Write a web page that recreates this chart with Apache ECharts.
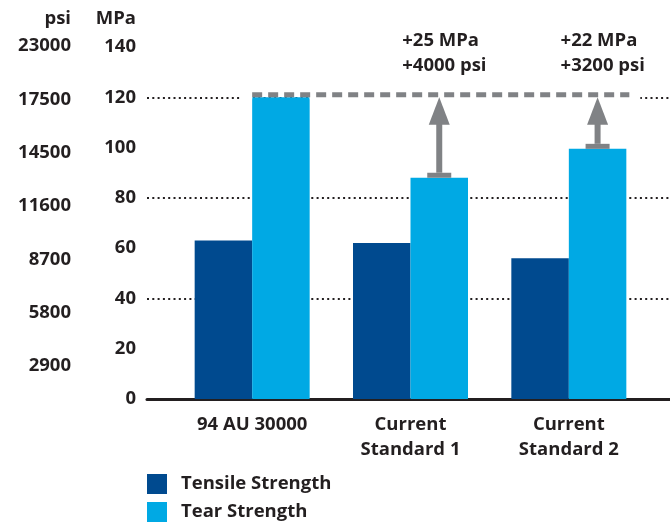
<!DOCTYPE html>
<html>
<head>
<meta charset="utf-8">
<script src="https://cdn.jsdelivr.net/npm/echarts@6/dist/echarts.min.js"></script>
<style>html,body{margin:0;padding:0;background:#fff;}#c{width:670px;height:522px;}</style>
</head>
<body>
<div id="c"></div>
<script>
// ---- data ----
const categories = ['94 AU 30000', 'Current\nStandard 1', 'Current\nStandard 2'];
const tensileStrength = [63, 62, 56];
const tearStrength = [120, 88, 99.5];
const psiLabels = ['2900', '5800', '8700', '11600', '14500', '17500', '23000'];
const targetMPa = 120;
const arrowCategories = [1, 2];
const gainMPaLabels = ['+25 MPa', '+22 MPa'];
const gainPsiLabels = ['+4000 psi', '+3200 psi'];
const seriesNames = ['Tensile Strength', 'Tear Strength'];
const unitMPa = 'MPa';
const unitPsi = 'psi';

// ---- layout / style ----
const FONT = '"Open Sans", "Noto Sans", sans-serif';
const FW = 'bold';
const FS = 18.5;
const TXT = '#231f20';
const GRAY = '#808285';
const DARK_BLUE = '#004a8f';
const LIGHT_BLUE = '#00a9e4';
const BAR_W = 57.5;
const G0 = {left: 173, right: 22, top: 47, bottom: 123};
const G1 = {left: 147, right: 0, top: 47, bottom: 123};
const G2 = {left: 80, width: 10, top: 46, bottom: 156};
const catW = (670 - G0.left - G0.right) / categories.length;
const labelStyle = {fontFamily: FONT, fontSize: FS, fontWeight: FW, color: TXT};

const splitColors = [];
for (let v = 0; v <= 140; v += 20) {
  splitColors.push([40, 80, 120].indexOf(v) >= 0 ? TXT : 'rgba(0,0,0,0)');
}

const chart = echarts.init(document.getElementById('c'), null, {renderer: 'canvas'});

const option = {
  animation: false,
  backgroundColor: '#fff',
  textStyle: {fontFamily: FONT},
  title: [
    {text: unitPsi, right: 670 - 71, top: 9, padding: 0,
     textStyle: {fontFamily: FONT, fontSize: FS, fontWeight: FW, color: TXT}},
    {text: unitMPa, right: 670 - 136, top: 9, padding: 0,
     textStyle: {fontFamily: FONT, fontSize: FS, fontWeight: FW, color: TXT}}
  ],
  grid: [G0, G1, G2],
  xAxis: [
    {type: 'category', gridIndex: 0, data: categories,
     axisLine: {show: false}, axisTick: {show: false},
     axisLabel: Object.assign({margin: 13, lineHeight: 25, interval: 0}, labelStyle)},
    {type: 'value', gridIndex: 1,
     min: -(G0.left - G1.left) / catW - 0.5,
     max: categories.length - 0.5 + (G0.right - G1.right) / catW,
     axisLine: {show: true, onZero: false, lineStyle: {color: TXT, width: 3}},
     axisTick: {show: false}, axisLabel: {show: false}, splitLine: {show: false}},
    {type: 'value', gridIndex: 2, show: false}
  ],
  yAxis: [
    {type: 'value', gridIndex: 0, min: 0, max: 140, show: false},
    {type: 'value', gridIndex: 1, min: 0, max: 140, interval: 20,
     axisLine: {show: false}, axisTick: {show: false},
     axisLabel: Object.assign({margin: 11}, labelStyle),
     splitLine: {show: true, lineStyle: {color: splitColors, type: [2, 3.3], width: 2}}},
    {type: 'category', gridIndex: 2, data: psiLabels, boundaryGap: false,
     axisLine: {show: false}, axisTick: {show: false},
     axisLabel: Object.assign({margin: 9}, labelStyle),
     splitLine: {show: false}}
  ],
  legend: {
    data: seriesNames, orient: 'vertical', left: 147, top: 472, height: 60, padding: 0,
    itemWidth: 20, itemHeight: 20, itemGap: 4, icon: 'rect',
    textStyle: Object.assign({padding: [4, 0, 0, 9], lineHeight: 20}, labelStyle)
  },
  series: [
    {name: seriesNames[0], type: 'bar', xAxisIndex: 0, yAxisIndex: 0,
     data: tensileStrength, barWidth: BAR_W, barGap: '0%',
     itemStyle: {color: DARK_BLUE}, z: 2},
    {name: seriesNames[1], type: 'bar', xAxisIndex: 0, yAxisIndex: 0,
     data: tearStrength, barWidth: BAR_W, barGap: '0%',
     itemStyle: {color: LIGHT_BLUE}, z: 2},
    {type: 'custom', xAxisIndex: 0, yAxisIndex: 0, z: 3, silent: true,
     data: [[0, categories.length - 1, targetMPa]],
     renderItem: function (params, api) {
       const p0 = api.coord([api.value(0), api.value(2)]);
       const p1 = api.coord([api.value(1), api.value(2)]);
       const y = p0[1] - 2.5;
       const x0 = p0[0];
       const x1 = p1[0] + BAR_W + 3;
       const white = {stroke: '#fff', lineWidth: 4};
       return {type: 'group', children: [
         {type: 'line', shape: {x1: x0 - 12, y1: p0[1], x2: x0, y2: p0[1]}, style: white},
         {type: 'line', shape: {x1: x0 + BAR_W, y1: p0[1], x2: x1 + 11, y2: p0[1]}, style: white},
         {type: 'line', shape: {x1: x0, y1: y, x2: x1, y2: y},
          style: {stroke: GRAY, lineWidth: 5, lineDash: [10, 6]}}
       ]};
     }},
    {type: 'custom', xAxisIndex: 0, yAxisIndex: 0, z: 4, silent: true,
     data: arrowCategories.map(function (c, i) { return [c, tearStrength[c], targetMPa, i]; }),
     renderItem: function (params, api) {
       const cat = api.value(0);
       const base = api.coord([cat, api.value(1)]);
       const tip = api.coord([cat, api.value(2)]);
       const i = api.value(3);
       const x = base[0] + BAR_W / 2;
       const headH = 27.5;
       return {type: 'group', children: [
         {type: 'rect', shape: {x: x - 12, y: base[1] - 5, width: 24, height: 5}, style: {fill: GRAY}},
         {type: 'rect', shape: {x: x - 3, y: tip[1] + headH - 1, width: 6, height: base[1] - 5 - (tip[1] + headH - 1)}, style: {fill: GRAY}},
         {type: 'polygon', shape: {points: [[x, tip[1]], [x - 10.5, tip[1] + headH], [x + 10.5, tip[1] + headH]]}, style: {fill: GRAY}},
         {type: 'text', x: x - 37, y: tip[1] - 69,
          style: {text: gainMPaLabels[i] + '\n' + gainPsiLabels[i], fill: TXT,
                  fontFamily: FONT, fontSize: FS, fontWeight: FW, lineHeight: 25,
                  align: 'left', verticalAlign: 'top'}}
       ]};
     }}
  ]
};
chart.setOption(option);
</script>
</body>
</html>
